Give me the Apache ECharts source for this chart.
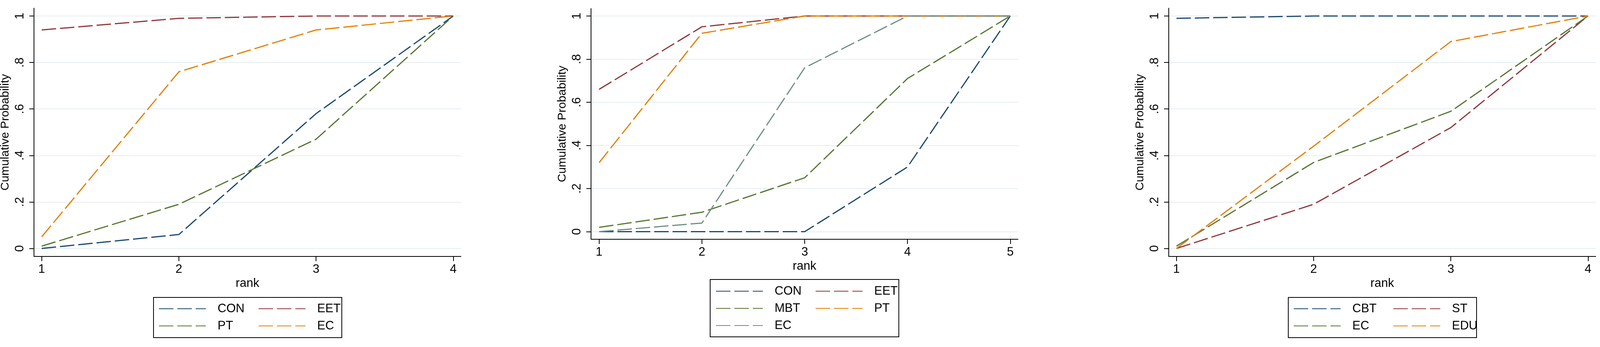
<!DOCTYPE html>
<html>
<head>
    <meta charset="utf-8" />
    <title>Cumulative rank probabilities</title>
    <script src="https://cdn.jsdelivr.net/npm/echarts@6/dist/echarts.min.js"></script>
    <style>
        html, body { margin: 0; padding: 0; background: #fff; overflow: hidden; }
        #chart { width: 100%; height: 889px; }
    </style>
</head>
<body>
    <div id="chart"></div>
<script>
    // ranks on the x axis
    var ranks4 = [1, 2, 3, 4];
    var ranks5 = [1, 2, 3, 4, 5];
    var yTicks = [0, 0.2, 0.4, 0.6, 0.8, 1];

    // left panel
    var p1Names = ['CON', 'EET', 'PT', 'EC'];
    var p1CON = [0, 0.06, 0.58, 1];
    var p1EET = [0.94, 0.99, 1, 1];
    var p1PT = [0.01, 0.19, 0.47, 1];
    var p1EC = [0.05, 0.76, 0.94, 1];

    // middle panel
    var p2Names = ['CON', 'EET', 'MBT', 'PT', 'EC'];
    var p2CON = [0, 0, 0, 0.30, 1];
    var p2EET = [0.66, 0.95, 1, 1, 1];
    var p2MBT = [0.02, 0.09, 0.25, 0.71, 1];
    var p2PT = [0.32, 0.92, 1, 1, 1];
    var p2EC = [0, 0.04, 0.76, 1, 1];

    // right panel
    var p3Names = ['CBT', 'ST', 'EC', 'EDU'];
    var p3CBT = [0.99, 1, 1, 1];
    var p3ST = [0, 0.19, 0.52, 1];
    var p3EC = [0.01, 0.37, 0.59, 1];
    var p3EDU = [0, 0.44, 0.89, 1];

    // stata s2color
    var colors = ['#1a476f', '#90353b', '#55752f', '#e37e00', '#6e8e84'];
    var FONT = '"Liberation Sans", Arial, sans-serif';
    var dash = [37, 10];

    var myChart = echarts.init(document.getElementById('chart'));

    // layout was measured on a 4147px wide picture, scale it to the real width
    var k = myChart.getWidth() / 4147;
    function sx(x) { return Math.round(x * k); }

    function pairs(xs, ys) {
        return xs.map(function (x, i) { return [x, ys[i]]; });
    }

    function mkSeries(panel, names, xs, lists) {
        return names.map(function (n, i) {
            return {
                name: n + '#' + panel,
                type: 'line',
                xAxisIndex: panel - 1,
                yAxisIndex: panel - 1,
                symbol: 'none',
                color: colors[i],
                lineStyle: { width: 3, type: dash, color: colors[i] },
                animation: false,
                data: pairs(xs, lists[i])
            };
        });
    }

    function fmtY(v) {
        if (v === 0) return '0';
        if (v === 1) return '1';
        return String(v).replace(/^0/, '');
    }

    function xAxis(idx, ticks, min, max) {
        return {
            type: 'value', gridIndex: idx, min: min, max: max,
            name: 'rank', nameLocation: 'middle', nameGap: 54,
            nameTextStyle: { fontSize: 31, fontFamily: FONT, color: '#000' },
            axisLine: { onZero: false, lineStyle: { color: '#000', width: 2 } },
            axisTick: { customValues: ticks, length: 12, lineStyle: { color: '#000', width: 2 } },
            axisLabel: { customValues: ticks, margin: 18, fontSize: 31, fontFamily: FONT, color: '#000',
                showMinLabel: true, showMaxLabel: true, hideOverlap: false },
            splitLine: { show: false }
        };
    }

    function yAxis(idx, min, max) {
        return {
            type: 'value', gridIndex: idx, min: min, max: max,
            name: 'Cumulative Probability', nameLocation: 'middle', nameRotate: 90, nameGap: 58,
            nameTextStyle: { fontSize: 30, fontFamily: FONT, color: '#000' },
            axisLine: { show: true, onZero: false, lineStyle: { color: '#000', width: 2 } },
            axisTick: { show: true, customValues: yTicks, length: 12, lineStyle: { color: '#000', width: 2 } },
            axisLabel: { customValues: yTicks, rotate: 90, margin: 20, fontSize: 31, fontFamily: FONT, color: '#000', formatter: fmtY },
            splitLine: { show: true, lineStyle: { color: '#e6edf0', width: 2 } }
        };
    }

    function legendCol(names, panel, left, top) {
        return {
            orient: 'vertical', left: sx(left), top: top, padding: 0,
            itemWidth: 132, itemHeight: 36, itemGap: 8,
            selectedMode: false,
            data: names.map(function (n) { return n + '#' + panel; }),
            formatter: function (name) { return name.split('#')[0]; },
            itemStyle: { opacity: 0 },
            lineStyle: { type: [37, 10, 37, 10, 26, 40] },
            textStyle: { fontSize: 31, fontFamily: FONT, color: '#000', lineHeight: 36, padding: [0, 0, 0, 13] }
        };
    }

    function box(x, y, w, h) {
        return { type: 'rect', shape: { x: sx(x), y: y, width: sx(w), height: h },
            style: { fill: 'none', stroke: '#000', lineWidth: 2 } };
    }

    var option = {
        backgroundColor: '#fff',
        animation: false,
        grid: [
            { left: sx(88), top: 21, width: sx(1107), height: 636, outerBoundsMode: 'none' },
            { left: sx(1532), top: 22, width: sx(1107), height: 591, outerBoundsMode: 'none' },
            { left: sx(3029), top: 21, width: sx(1107), height: 636, outerBoundsMode: 'none' }
        ],
        xAxis: [
            xAxis(0, ranks4, 0.9438, 4.0562),
            xAxis(1, ranks5, 0.9212, 5.075),
            xAxis(2, ranks4, 0.9438, 4.0562)
        ],
        yAxis: [
            yAxis(0, -0.0344, 1.0336),
            yAxis(1, -0.0353, 1.0344),
            yAxis(2, -0.0344, 1.0336)
        ],
        legend: [
            legendCol(['CON', 'PT'], 1, 411, 773),
            legendCol(['EET', 'EC'], 1, 669, 773),
            legendCol(['CON', 'MBT', 'EC'], 2, 1855, 728),
            legendCol(['EET', 'PT'], 2, 2113, 728),
            legendCol(['CBT', 'EC'], 3, 3352, 773),
            legendCol(['ST', 'EDU'], 3, 3610, 773)
        ],
        graphic: [
            box(398, 762, 488, 103),
            box(1841, 716, 489, 147),
            box(3339, 762, 488, 103)
        ],
        series: [].concat(
            mkSeries(1, p1Names, ranks4, [p1CON, p1EET, p1PT, p1EC]),
            mkSeries(2, p2Names, ranks5, [p2CON, p2EET, p2MBT, p2PT, p2EC]),
            mkSeries(3, p3Names, ranks4, [p3CBT, p3ST, p3EC, p3EDU])
        )
    };

    myChart.setOption(option);
</script>
</body>
</html>
